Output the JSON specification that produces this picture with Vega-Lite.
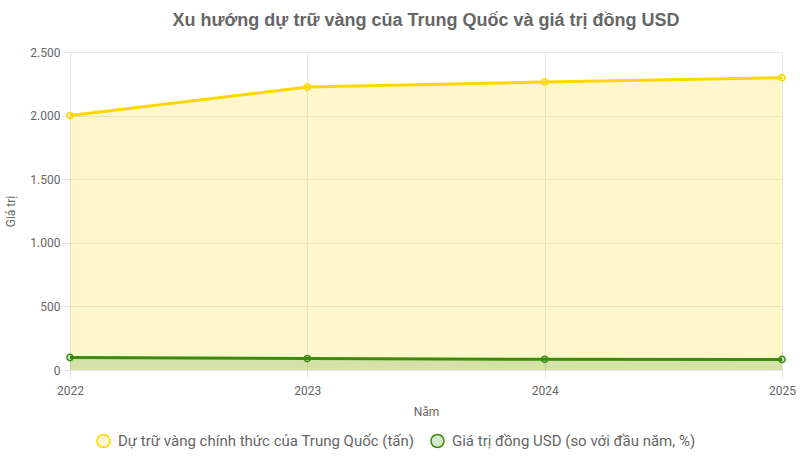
{
  "$schema": "https://vega.github.io/schema/vega-lite/v6.json",
  "width": 800,
  "height": 461,
  "autosize": {"type": "fit", "contains": "padding"},
  "padding": {"left": 4, "top": 12, "right": 4, "bottom": 44},
  "title": {
    "text": "Xu hướng dự trữ vàng của Trung Quốc và giá trị đồng USD",
    "font": "Liberation Sans",
    "fontSize": 18,
    "fontWeight": "bold",
    "color": "#666666",
    "offset": 16
  },
  "data": {
    "values": [
      {"Năm": "2022", "series": "Dự trữ vàng chính thức của Trung Quốc (tấn)", "value": 2000},
      {"Năm": "2023", "series": "Dự trữ vàng chính thức của Trung Quốc (tấn)", "value": 2225},
      {"Năm": "2024", "series": "Dự trữ vàng chính thức của Trung Quốc (tấn)", "value": 2264},
      {"Năm": "2025", "series": "Dự trữ vàng chính thức của Trung Quốc (tấn)", "value": 2298},
      {"Năm": "2022", "series": "Giá trị đồng USD (so với đầu năm, %)", "value": 98},
      {"Năm": "2023", "series": "Giá trị đồng USD (so với đầu năm, %)", "value": 90},
      {"Năm": "2024", "series": "Giá trị đồng USD (so với đầu năm, %)", "value": 84},
      {"Năm": "2025", "series": "Giá trị đồng USD (so với đầu năm, %)", "value": 83}
    ]
  },
  "encoding": {
    "x": {
      "field": "Năm",
      "type": "ordinal",
      "scale": {"type": "point", "padding": 0},
      "axis": {"labelAngle": 0, "grid": true, "title": "Năm", "tickSize": 8, "labelPadding": 7, "titlePadding": 10}
    },
    "y": {
      "field": "value",
      "type": "quantitative",
      "stack": null,
      "scale": {"domain": [0, 2500]},
      "axis": {"title": "Giá trị", "tickCount": 5, "format": ",d", "tickSize": 8, "titlePadding": 12}
    }
  },
  "layer": [
    {
      "mark": {"type": "area", "interpolate": "linear"},
      "encoding": {
        "fill": {
          "field": "series",
          "type": "nominal",
          "scale": {"range": ["rgba(255,215,0,0.2)", "rgba(40,140,20,0.2)"]},
          "legend": {"title": null}
        }
      }
    },
    {
      "mark": {"type": "line", "strokeWidth": 3},
      "encoding": {
        "stroke": {
          "field": "series",
          "type": "nominal",
          "scale": {"range": ["#FFD700", "#3A8C0A"]},
          "legend": {"title": null}
        }
      }
    },
    {
      "mark": {"type": "point", "shape": "circle", "size": 40, "strokeWidth": 1.5, "filled": false, "opacity": 1},
      "encoding": {
        "fill": {"field": "series", "type": "nominal", "legend": {"title": null}},
        "stroke": {"field": "series", "type": "nominal", "legend": {"title": null}}
      }
    }
  ],
  "config": {
    "locale": {"number": {"decimal": ",", "thousands": ".", "grouping": [3], "currency": ["", " ₫"]}},
    "font": "Roboto",
    "view": {"stroke": null},
    "axis": {
      "labelFont": "Roboto",
      "labelFontSize": 12,
      "labelColor": "#666666",
      "titleFont": "Roboto",
      "titleFontSize": 12,
      "titleFontWeight": "normal",
      "titleColor": "#666666",
      "gridColor": "#e6e6e6",
      "domainColor": "#e6e6e6",
      "tickColor": "#e6e6e6"
    },
    "legend": {
      "orient": "none",
      "legendX": 26,
      "legendY": 381,
      "direction": "horizontal",
      "symbolType": "circle",
      "symbolSize": 170,
      "symbolStrokeWidth": 1.5,
      "labelOffset": 7,
      "labelFont": "Roboto",
      "labelFontSize": 15,
      "labelColor": "#666666",
      "labelLimit": 400,
      "columnPadding": 12
    }
  }
}
